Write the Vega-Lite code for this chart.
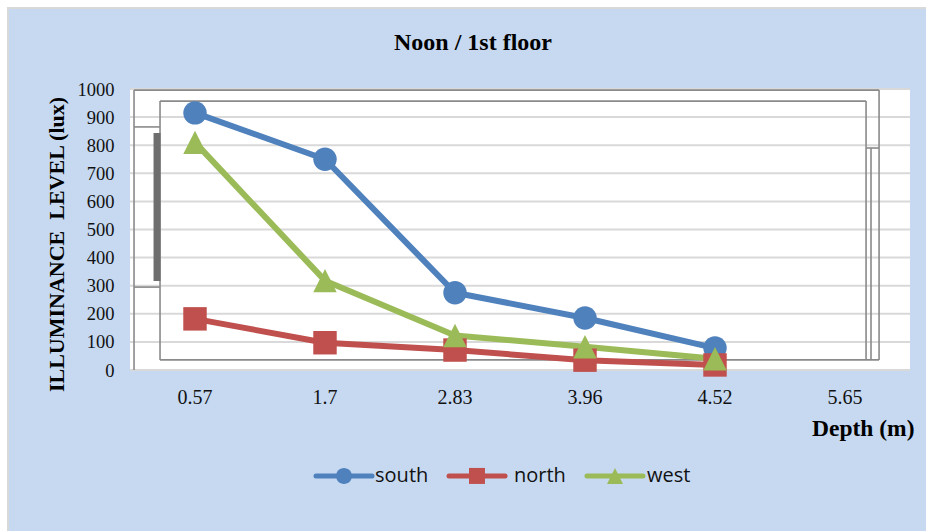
{
  "$schema": "https://vega.github.io/schema/vega-lite/v6.json",
  "width": 780,
  "height": 281,
  "autosize": {"type": "none"},
  "padding": {"left": 130, "top": 89, "right": 16, "bottom": 161},
  "background": "#c6d9f1",
  "view": {"stroke": null},
  "title": {
    "text": "Noon / 1st floor",
    "font": "Liberation Serif",
    "fontSize": 24,
    "fontWeight": "bold",
    "color": "#000000",
    "anchor": "middle",
    "frame": "group",
    "dx": -47,
    "offset": -55
  },
  "datasets": {
    "outerEdge": [
      {"x": -1, "x2": -0.946, "y": 1317, "y2": -580},
      {"x": -1, "x2": 6.13, "y": 1317, "y2": 1292}
    ],
    "innerEdge": [
      {"x": -0.946, "x2": -0.931, "y": 1292, "y2": -580},
      {"x": -0.946, "x2": 6.13, "y": 1292, "y2": 1285}
    ],
    "plot": [{"x": 0, "x2": 6, "y": 1000, "y2": 0}],
    "grid": [
      {"y": 0}, {"y": 100}, {"y": 200}, {"y": 300}, {"y": 400}, {"y": 500},
      {"y": 600}, {"y": 700}, {"y": 800}, {"y": 900}, {"y": 1000}
    ],
    "section": [
      {"x": 0.031, "x2": 0.031, "y": 996, "y2": 0},
      {"x": 0.031, "x2": 5.762, "y": 996, "y2": 996},
      {"x": 5.762, "x2": 5.762, "y": 996, "y2": 36},
      {"x": 0.231, "x2": 0.231, "y": 957, "y2": 36},
      {"x": 0.231, "x2": 5.662, "y": 957, "y2": 957},
      {"x": 5.662, "x2": 5.662, "y": 957, "y2": 36},
      {"x": 0.231, "x2": 5.762, "y": 36, "y2": 36},
      {"x": 0.031, "x2": 0.231, "y": 865, "y2": 865},
      {"x": 0.031, "x2": 0.231, "y": 295, "y2": 295},
      {"x": 5.662, "x2": 5.762, "y": 790, "y2": 790},
      {"x": 5.7, "x2": 5.7, "y": 790, "y2": 36}
    ],
    "wall": [{"x": 0.208, "x2": 0.208, "y": 843, "y2": 317}],
    "key": [
      {"facade": "south", "start": 1.431, "end": 1.862, "middle": 1.646, "text": 1.885, "y": -377},
      {"facade": "north", "start": 2.454, "end": 2.885, "middle": 2.669, "text": 2.954, "y": -377},
      {"facade": "west", "start": 3.515, "end": 3.946, "middle": 3.731, "text": 3.977, "y": -377}
    ],
    "readings": [
      {"depth": "0.57", "facade": "south", "lux": 915},
      {"depth": "1.7", "facade": "south", "lux": 750},
      {"depth": "2.83", "facade": "south", "lux": 275},
      {"depth": "3.96", "facade": "south", "lux": 185},
      {"depth": "4.52", "facade": "south", "lux": 78},
      {"depth": "0.57", "facade": "north", "lux": 182},
      {"depth": "1.7", "facade": "north", "lux": 97},
      {"depth": "2.83", "facade": "north", "lux": 71},
      {"depth": "3.96", "facade": "north", "lux": 35},
      {"depth": "4.52", "facade": "north", "lux": 18},
      {"depth": "0.57", "facade": "west", "lux": 810},
      {"depth": "1.7", "facade": "west", "lux": 318},
      {"depth": "2.83", "facade": "west", "lux": 123},
      {"depth": "3.96", "facade": "west", "lux": 83},
      {"depth": "4.52", "facade": "west", "lux": 40}
    ]
  },
  "resolve": {"scale": {"x": "independent"}},
  "layer": [
    {
      "data": {"name": "outerEdge"},
      "mark": {"type": "rect", "color": "#ffffff"},
      "encoding": {
        "x": {"field": "x", "type": "quantitative", "scale": {"domain": [0, 6], "nice": false, "zero": false}, "axis": null},
        "x2": {"field": "x2"},
        "y": {
          "field": "y",
          "type": "quantitative",
          "scale": {"domain": [0, 1000], "nice": false},
          "axis": {
            "title": "ILLUMINANCE\u00a0\u00a0LEVEL (lux)",
            "titleFont": "Liberation Serif",
            "titleFontSize": 22,
            "titleFontWeight": "bold",
            "titleColor": "#000000",
            "titleX": -62,
            "titleY": 155,
            "labelFont": "Liberation Serif",
            "labelFontSize": 18.5,
            "labelColor": "#111111",
            "labelPadding": 16,
            "labelOverlap": false,
            "format": "d",
            "tickCount": 11,
            "values": [0, 100, 200, 300, 400, 500, 600, 700, 800, 900, 1000],
            "ticks": false,
            "domain": false,
            "grid": false,
            "zindex": 1
          }
        },
        "y2": {"field": "y2"}
      }
    },
    {
      "data": {"name": "innerEdge"},
      "mark": {"type": "rect", "color": "#d9d9d9"},
      "encoding": {
        "x": {"field": "x", "type": "quantitative", "scale": {"domain": [0, 6], "nice": false, "zero": false}, "axis": null},
        "x2": {"field": "x2"},
        "y": {"field": "y", "type": "quantitative", "scale": {"domain": [0, 1000], "nice": false}},
        "y2": {"field": "y2"}
      }
    },
    {
      "data": {"name": "plot"},
      "mark": {"type": "rect", "color": "#ffffff"},
      "encoding": {
        "x": {"field": "x", "type": "quantitative", "scale": {"domain": [0, 6], "nice": false, "zero": false}, "axis": null},
        "x2": {"field": "x2"},
        "y": {"field": "y", "type": "quantitative", "scale": {"domain": [0, 1000], "nice": false}},
        "y2": {"field": "y2"}
      }
    },
    {
      "data": {"name": "grid"},
      "mark": {"type": "rule", "color": "#d9d9d9", "strokeWidth": 2},
      "encoding": {
        "y": {"field": "y", "type": "quantitative", "scale": {"domain": [0, 1000], "nice": false}}
      }
    },
    {
      "data": {"name": "section"},
      "mark": {"type": "rule", "color": "#8a8a8a", "strokeWidth": 1.6},
      "encoding": {
        "x": {"field": "x", "type": "quantitative", "scale": {"domain": [0, 6], "nice": false, "zero": false}, "axis": null},
        "x2": {"field": "x2"},
        "y": {"field": "y", "type": "quantitative", "scale": {"domain": [0, 1000], "nice": false}},
        "y2": {"field": "y2"}
      }
    },
    {
      "data": {"name": "wall"},
      "mark": {"type": "rule", "color": "#6e6e6e", "strokeWidth": 7},
      "encoding": {
        "x": {"field": "x", "type": "quantitative", "scale": {"domain": [0, 6], "nice": false, "zero": false}, "axis": null},
        "x2": {"field": "x2"},
        "y": {"field": "y", "type": "quantitative", "scale": {"domain": [0, 1000], "nice": false}},
        "y2": {"field": "y2"}
      }
    },
    {
      "data": {"name": "readings"},
      "layer": [
        {
          "mark": {"type": "line", "strokeWidth": 6, "strokeCap": "round", "strokeJoin": "round"},
          "encoding": {
            "color": {
              "field": "facade",
              "type": "nominal",
              "scale": {"domain": ["south", "north", "west"], "range": ["#4f81bd", "#c0504d", "#9bbb59"]},
              "legend": null
            }
          }
        },
        {
          "mark": {"type": "point", "filled": true, "opacity": 1, "size": 550},
          "encoding": {
            "color": {
              "field": "facade",
              "type": "nominal",
              "scale": {"domain": ["south", "north", "west"], "range": ["#4f81bd", "#c0504d", "#9bbb59"]},
              "legend": null
            },
            "shape": {
              "field": "facade",
              "type": "nominal",
              "legend": null,
              "scale": {
                "domain": ["south", "north", "west"],
                "range": [
                  "M-1,0A1,1,0,1,1,1,0A1,1,0,1,1,-1,0Z",
                  "M-1,-1L1,-1L1,1L-1,1Z",
                  "M0,-1L-1,1L1,1Z"
                ]
              }
            }
          }
        }
      ],
      "encoding": {
        "x": {
          "field": "depth",
          "type": "ordinal",
          "scale": {"type": "band", "domain": ["0.57", "1.7", "2.83", "3.96", "4.52", "5.65"], "paddingInner": 0, "paddingOuter": 0},
          "axis": {
            "title": "Depth (m)",
            "titleFont": "Liberation Serif",
            "titleFontSize": 23.5,
            "titleFontWeight": "bold",
            "titleColor": "#000000",
            "titleAnchor": "end",
            "titleAlign": "right",
            "titleX": 784,
            "titleY": 46,
            "labelFont": "Liberation Serif",
            "labelFontSize": 20,
            "labelColor": "#111111",
            "labelAngle": 0,
            "labelPadding": 17,
            "ticks": false,
            "domain": false,
            "grid": false,
            "zindex": 1
          }
        },
        "y": {
          "field": "lux",
          "type": "quantitative",
          "scale": {"domain": [0, 1000], "nice": false}
        }
      }
    },
    {
      "data": {"name": "key"},
      "mark": {"type": "rule", "strokeWidth": 5, "strokeCap": "round"},
      "encoding": {
        "x": {"field": "start", "type": "quantitative", "scale": {"domain": [0, 6], "nice": false, "zero": false}, "axis": null},
        "x2": {"field": "end"},
        "y": {"field": "y", "type": "quantitative", "scale": {"domain": [0, 1000], "nice": false}},
        "color": {
          "field": "facade",
          "type": "nominal",
          "scale": {"domain": ["south", "north", "west"], "range": ["#4f81bd", "#c0504d", "#9bbb59"]},
          "legend": null
        }
      }
    },
    {
      "data": {"name": "key"},
      "mark": {"type": "point", "filled": true, "opacity": 1, "size": 256},
      "encoding": {
        "x": {"field": "middle", "type": "quantitative", "scale": {"domain": [0, 6], "nice": false, "zero": false}, "axis": null},
        "y": {"field": "y", "type": "quantitative", "scale": {"domain": [0, 1000], "nice": false}},
        "color": {
          "field": "facade",
          "type": "nominal",
          "scale": {"domain": ["south", "north", "west"], "range": ["#4f81bd", "#c0504d", "#9bbb59"]},
          "legend": null
        },
        "shape": {
          "field": "facade",
          "type": "nominal",
          "legend": null,
          "scale": {
            "domain": ["south", "north", "west"],
            "range": [
              "M-1,0A1,1,0,1,1,1,0A1,1,0,1,1,-1,0Z",
              "M-1,-1L1,-1L1,1L-1,1Z",
              "M0,-1L-1,1L1,1Z"
            ]
          }
        }
      }
    },
    {
      "data": {"name": "key"},
      "mark": {"type": "text", "font": "Open Sans", "fontSize": 20, "color": "#111111", "align": "left", "baseline": "middle"},
      "encoding": {
        "x": {"field": "text", "type": "quantitative", "scale": {"domain": [0, 6], "nice": false, "zero": false}, "axis": null},
        "y": {"field": "y", "type": "quantitative", "scale": {"domain": [0, 1000], "nice": false}},
        "text": {"field": "facade", "type": "nominal"}
      }
    }
  ]
}
